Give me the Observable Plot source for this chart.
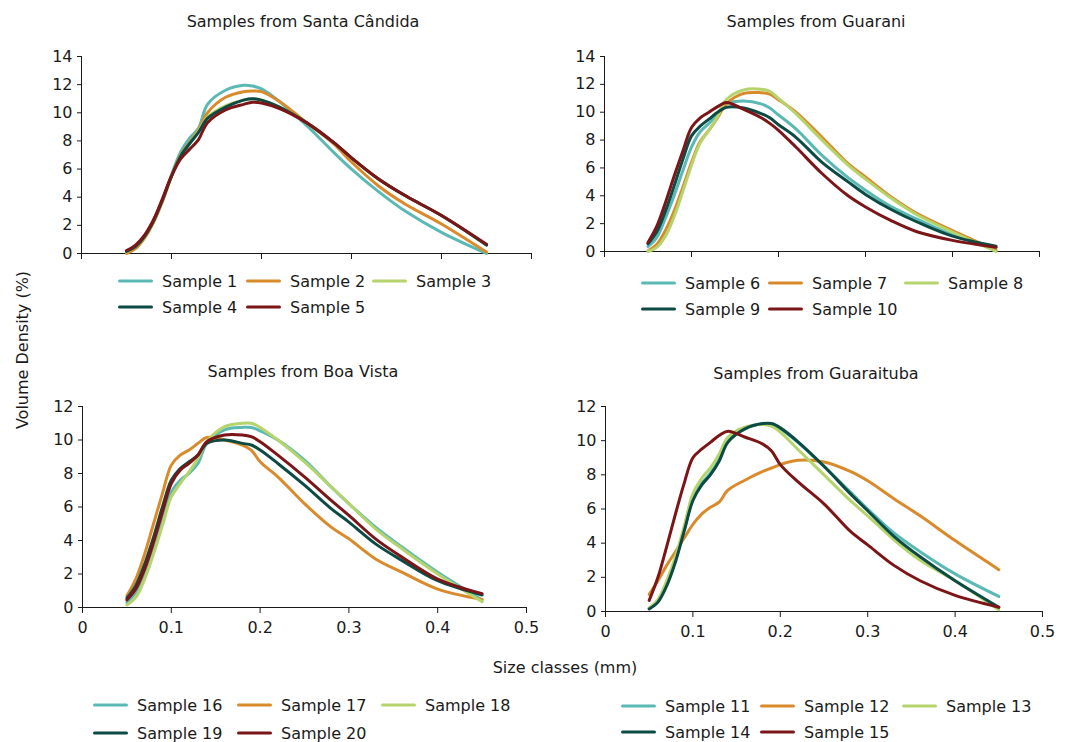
<!DOCTYPE html>
<html>
<head>
<meta charset="utf-8">
<script src="https://cdn.jsdelivr.net/npm/d3@7"></script>
<script src="https://cdn.jsdelivr.net/npm/@observablehq/plot@0.6"></script>
<style>
  html, body { margin: 0; padding: 0; background: #fff; }
  #root { position: relative; width: 1073px; height: 742px; font-family: "DejaVu Sans", sans-serif; color: #1a1a1a; overflow: hidden; }
  .abs { position: absolute; }
  .title { font-size: 16px; white-space: nowrap; transform: translate(-50%, -50%); }
  .leg { position: absolute; display: flex; align-items: center; font-size: 16px; white-space: nowrap; transform: translateY(-50%); }
  .leg .sw { width: 35px; height: 3px; border-radius: 1.5px; margin-right: 9px; }
</style>
</head>
<body>
<div id="root"></div>
<script>
// ---- Data ----
const sizeClasses = [0.05,0.06,0.07,0.08,0.09,0.1,0.11,0.12,0.13,0.14,0.16,0.18,0.19,0.2,0.22,0.25,0.28,0.3,0.33,0.36,0.4,0.45];

const santaCandidaNames = ["Sample 1","Sample 2","Sample 3","Sample 4","Sample 5"];
const santaCandida = [
  [0.05,0.4,1.2,2.3,3.8,5.6,7.2,8.2,8.9,10.6,11.6,11.95,11.9,11.7,10.8,9.1,7.2,6.0,4.4,3.0,1.5,0.0],
  [0.0,0.35,1.1,2.2,3.7,5.5,7.0,7.9,8.8,10.0,11.1,11.5,11.55,11.5,10.8,9.3,7.8,6.5,4.8,3.5,2.1,0.1],
  [0.1,0.5,1.2,2.3,3.8,5.5,6.9,7.8,8.7,9.7,10.5,10.9,11.0,10.9,10.4,9.3,7.9,6.8,5.3,4.1,2.7,0.6],
  [0.15,0.5,1.2,2.3,3.8,5.5,6.9,7.8,8.6,9.6,10.4,10.9,11.0,10.9,10.4,9.3,7.9,6.8,5.3,4.1,2.7,0.6],
  [0.2,0.6,1.3,2.4,3.9,5.5,6.7,7.4,8.1,9.3,10.2,10.6,10.75,10.7,10.3,9.3,7.9,6.8,5.3,4.1,2.7,0.65]
];

const guaraniNames = ["Sample 6","Sample 7","Sample 8","Sample 9","Sample 10"];
const guarani = [
  [0.35,1.0,2.4,4.0,5.8,7.5,8.6,9.2,9.9,10.6,10.8,10.6,10.3,9.8,8.8,6.9,5.3,4.4,3.2,2.3,1.2,0.3],
  [0.05,0.5,1.5,2.9,4.6,6.4,7.9,8.7,9.6,10.6,11.35,11.4,11.3,10.9,10.0,8.2,6.3,5.35,3.9,2.7,1.5,0.1],
  [0.0,0.3,1.1,2.5,4.3,6.2,7.8,8.7,9.7,10.9,11.6,11.65,11.5,11.0,9.9,8.0,6.2,5.2,3.8,2.6,1.4,0.0],
  [0.55,1.4,2.9,4.7,6.6,8.3,9.0,9.5,10.0,10.35,10.3,9.9,9.6,9.1,8.2,6.4,5.0,4.1,3.0,2.1,1.1,0.38],
  [0.65,1.8,3.5,5.4,7.2,8.9,9.6,10.0,10.4,10.7,10.2,9.6,9.2,8.7,7.5,5.6,4.0,3.2,2.2,1.4,0.8,0.3]
];

const boaVistaNames = ["Sample 16","Sample 17","Sample 18","Sample 19","Sample 20"];
const boaVista = [
  [0.3,0.9,2.0,3.5,5.2,6.9,7.6,8.0,8.6,9.8,10.6,10.75,10.75,10.55,10.0,8.8,7.2,6.2,4.8,3.6,2.1,0.45],
  [0.7,1.7,3.2,5.0,6.8,8.5,9.1,9.4,9.8,10.15,10.0,9.7,9.4,8.7,7.8,6.2,4.8,4.1,2.9,2.1,1.1,0.48],
  [0.15,0.6,1.7,3.2,4.9,6.6,7.4,8.1,8.9,9.9,10.8,11.0,11.0,10.75,10.0,8.7,7.2,6.2,4.7,3.5,2.0,0.35],
  [0.55,1.3,2.6,4.2,6.0,7.6,8.3,8.7,9.1,9.8,10.0,9.8,9.7,9.4,8.6,7.3,5.9,5.1,3.8,2.8,1.6,0.75],
  [0.45,1.1,2.3,3.9,5.7,7.4,8.2,8.6,9.1,9.9,10.3,10.3,10.2,9.9,9.1,7.8,6.4,5.5,4.1,3.0,1.7,0.83]
];

const guaraitubaNames = ["Sample 11","Sample 12","Sample 13","Sample 14","Sample 15"];
const guaraituba = [
  [0.2,0.6,1.6,3.0,4.8,6.6,7.5,8.1,8.9,10.0,10.7,11.0,10.95,10.7,9.9,8.5,7.0,6.0,4.6,3.5,2.2,0.88],
  [1.0,1.8,2.7,3.5,4.3,5.1,5.7,6.1,6.4,7.1,7.7,8.2,8.4,8.6,8.85,8.75,8.2,7.65,6.6,5.6,4.15,2.45],
  [0.2,0.7,1.8,3.2,5.0,6.9,7.8,8.4,9.2,10.2,10.8,10.95,10.85,10.5,9.5,8.0,6.5,5.6,4.2,3.0,1.8,0.1],
  [0.15,0.55,1.5,2.9,4.7,6.5,7.4,8.0,8.8,9.9,10.7,11.0,11.0,10.75,9.95,8.5,6.9,5.9,4.4,3.2,1.8,0.25],
  [0.65,2.0,3.8,5.7,7.5,9.0,9.5,9.9,10.3,10.55,10.2,9.8,9.4,8.6,7.6,6.3,4.7,3.9,2.7,1.8,0.94,0.25]
];

const xTicks = [0, 0.1, 0.2, 0.3, 0.4, 0.5];
const seriesColors = ["#5bb9b5", "#d98a2b", "#b5d46c", "#0c4b44", "#7b1517"];

// ---- Drawing ----
const root = document.getElementById("root");

function panel(values, names, yMax, showXLabels, box) {
  const rows = [];
  values.forEach((ys, i) => ys.forEach((v, j) => rows.push({x: sizeClasses[j], y: v, s: names[i], i})));
  const svg = Plot.plot({
    width: box.width, height: box.height,
    marginLeft: box.ml, marginRight: box.mr, marginTop: box.mt, marginBottom: box.mb,
    style: {fontFamily: "DejaVu Sans, sans-serif", fontSize: "16px", color: "#1a1a1a", background: "transparent", overflow: "visible"},
    x: {domain: [0, 0.5]},
    y: {domain: [0, yMax]},
    color: {domain: names, range: seriesColors},
    marks: [
      Plot.axisX({ticks: xTicks, tickSize: 6, tickPadding: 8, label: null,
                  tickFormat: showXLabels ? (d => d === 0 ? "0" : String(d)) : () => ""}),
      Plot.axisY({ticks: d3.range(0, yMax + 1, 2), tickSize: 4, tickPadding: 5, label: null}),
      Plot.ruleY([0], {stroke: "#1a1a1a", strokeWidth: 1}),
      Plot.ruleX([0], {stroke: "#1a1a1a", strokeWidth: 1}),
      ...names.map((n, i) => Plot.line(rows.filter(r => r.i === i), {
        x: "x", y: "y", stroke: "s", strokeWidth: 3, curve: "catmull-rom", strokeLinecap: "round", strokeLinejoin: "round"
      }))
    ]
  });
  svg.style.position = "absolute";
  svg.style.left = box.left + "px";
  svg.style.top = box.top + "px";
  root.appendChild(svg);
}

function title(text, cx, cy) {
  const d = document.createElement("div");
  d.className = "abs title";
  d.textContent = text;
  d.style.left = cx + "px";
  d.style.top = cy + "px";
  root.appendChild(d);
}

function legend(names, cols, rowsY) {
  names.forEach((n, i) => {
    const c = i % 3, r = Math.floor(i / 3);
    const d = document.createElement("div");
    d.className = "leg";
    d.style.left = cols[c] + "px";
    d.style.top = rowsY[r] + "px";
    const sw = document.createElement("span");
    sw.className = "sw";
    sw.style.background = seriesColors[i];
    const t = document.createElement("span");
    t.textContent = n;
    d.appendChild(sw); d.appendChild(t);
    root.appendChild(d);
  });
}

panel(santaCandida, santaCandidaNames, 14, false, {left: 0, top: 40, width: 540, height: 225, ml: 81, mr: 9, mt: 16, mb: 12});
panel(guarani, guaraniNames, 14, false, {left: 560, top: 40, width: 490, height: 223, ml: 44, mr: 11, mt: 16, mb: 12});
panel(boaVista, boaVistaNames, 12, true, {left: 0, top: 395, width: 540, height: 252, ml: 82, mr: 14, mt: 11, mb: 40});
panel(guaraituba, guaraitubaNames, 12, true, {left: 560, top: 395, width: 500, height: 256, ml: 45, mr: 18, mt: 11, mb: 40});

title("Samples from Santa Cândida", 303, 21);
title("Samples from Guarani", 816, 21);
title("Samples from Boa Vista", 303, 371);
title("Samples from Guaraituba", 816, 373);

legend(santaCandidaNames, [118, 246, 372], [281, 307]);
legend(guaraniNames, [641, 768, 904], [283, 309]);
legend(boaVistaNames, [93, 237, 381], [705, 733]);
legend(guaraitubaNames, [621, 760, 902], [706, 732]);

// axis titles
const yl = document.createElement("div");
yl.className = "abs";
yl.textContent = "Volume Density (%)";
yl.style.cssText = "position:absolute;left:22px;top:350px;font-size:16px;white-space:nowrap;transform:translate(-50%,-50%) rotate(-90deg);";
root.appendChild(yl);
const xl = document.createElement("div");
xl.className = "abs title";
xl.textContent = "Size classes (mm)";
xl.style.left = "565px";
xl.style.top = "667px";
root.appendChild(xl);
</script>
</body>
</html>
